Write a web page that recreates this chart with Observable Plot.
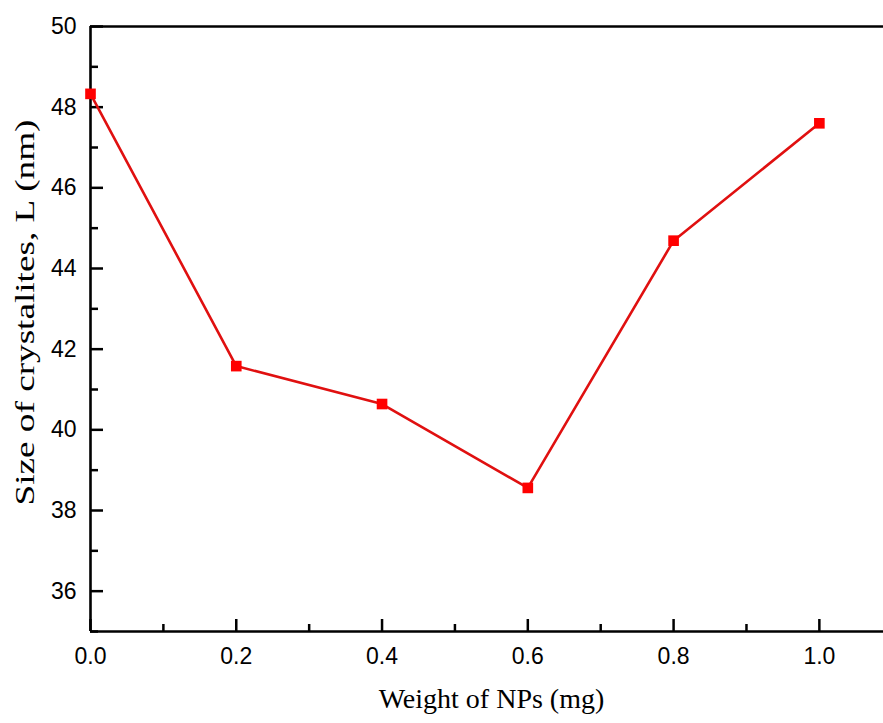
<!DOCTYPE html>
<html>
<head>
<meta charset="utf-8">
<script src="https://cdn.jsdelivr.net/npm/d3@7"></script>
<script src="https://cdn.jsdelivr.net/npm/@observablehq/plot@0.6"></script>
<style>
  html, body { margin: 0; padding: 0; background: #fff; }
  #chart svg { display: block; }
</style>
</head>
<body>
<div id="chart"></div>
<script>
// Data
const weights = [0.0, 0.2, 0.4, 0.6, 0.8, 1.0];
const sizes = [48.33, 41.58, 40.64, 38.56, 44.69, 47.60];

// Ticks
const xMajorTicks = [0.0, 0.2, 0.4, 0.6, 0.8, 1.0];
const xMinorTicks = [0.1, 0.3, 0.5, 0.7, 0.9];
const yMajorTicks = [36, 38, 40, 42, 44, 46, 48, 50];
const yMinorTicks = [35, 37, 39, 41, 43, 45, 47, 49];

const xTitle = "Weight of NPs (mg)";
const yTitle = "Size of crystalites, L (nm)";

const data = weights.map((w, i) => ({w, s: sizes[i]}));

const sans = "'Liberation Sans', Arial, sans-serif";
const serif = "'Liberation Serif', 'Times New Roman', serif";

const chart = Plot.plot({
  width: 883,
  height: 723,
  marginLeft: 90,
  marginRight: 0,
  marginTop: 26,
  marginBottom: 92,
  style: {background: "#fff", color: "#000", overflow: "visible"},
  x: {domain: [0, 1.088], label: null},
  y: {domain: [35, 50], label: null},
  marks: [
    // frame lines
    Plot.ruleY([50], {stroke: "#000", strokeWidth: 2.6}),
    Plot.ruleY([35], {stroke: "#000", strokeWidth: 2.6}),
    Plot.ruleX([0], {stroke: "#000", strokeWidth: 2.6}),
    // inward ticks
    Plot.axisX(xMajorTicks, {anchor: "bottom", tickSize: -12, strokeWidth: 2.5, fill: "none", label: null}),
    Plot.axisX(xMinorTicks, {anchor: "bottom", tickSize: -7, strokeWidth: 2.5, fill: "none", label: null}),
    Plot.axisY(yMajorTicks, {anchor: "left", tickSize: -13, strokeWidth: 2.5, fill: "none", label: null}),
    Plot.axisY(yMinorTicks, {anchor: "left", tickSize: -8, strokeWidth: 2.5, fill: "none", label: null}),
    // tick labels
    Plot.axisX(xMajorTicks, {anchor: "bottom", tickSize: 0, tickPadding: 16, fontSize: 23, fontFamily: sans, tickFormat: d3.format(".1f"), label: null}),
    Plot.axisY(yMajorTicks, {anchor: "left", tickSize: 0, tickPadding: 14, fontSize: 23, fontFamily: sans, tickFormat: d3.format("d"), label: null}),
    // data
    Plot.line(data, {x: "w", y: "s", stroke: "#e01010", strokeWidth: 2.6}),
    Plot.dot(data, {x: "w", y: "s", symbol: "square", r: 6, fill: "#ff0000", stroke: "none"}),
    // titles
    Plot.text([xTitle], {frameAnchor: "bottom", lineAnchor: "bottom", dx: 4.5, dy: 76, fontSize: 28, fontFamily: serif, fill: "#000"}),
    Plot.text([yTitle], {frameAnchor: "left", rotate: -90, textAnchor: "start", lineAnchor: "middle", dx: -65, dy: 176.5, fontSize: 28, fontFamily: serif, fill: "#000"})
  ]
});

d3.select(chart).selectAll("text").filter(function() { return this.textContent === yTitle; })
  .attr("textLength", 386).attr("lengthAdjust", "spacingAndGlyphs");

document.getElementById("chart").appendChild(chart);
</script>
</body>
</html>
